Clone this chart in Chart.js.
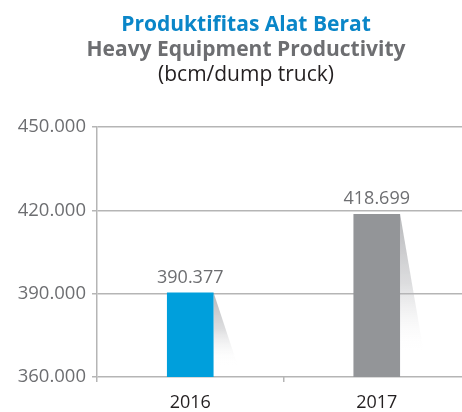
<!DOCTYPE html>
<html>
<head>
<meta charset="utf-8">
<script src="https://cdn.jsdelivr.net/npm/chart.js@4.4.1/dist/chart.umd.min.js"></script>
<style>
  html, body { margin: 0; padding: 0; background: #fff; overflow: hidden; }
</style>
</head>
<body>
<canvas id="barCanvas" width="470" height="412"></canvas>
<script>
const years = ['2016', '2017'];
const productivity = [390377, 418699];
const barColors = ['#009fdc', '#939598'];
const titleLines = ['Produktifitas Alat Berat', 'Heavy Equipment Productivity', '(bcm/dump truck)'];

const FONT = "'Open Sans', sans-serif";

// 450000 -> "450.000"
function fmt(v) {
    return String(Math.round(v)).replace(/\B(?=(\d{3})+(?!\d))/g, '.');
}

// three-line heading above the plot
const headingPlugin = {
    id: 'heading',
    afterDraw(chart) {
        const ctx = chart.ctx;
        ctx.save();
        ctx.textAlign = 'center';
        ctx.textBaseline = 'middle';
        ctx.font = 'bold 21px ' + FONT;
        ctx.fillStyle = '#0a86c8';
        ctx.fillText(titleLines[0], 246, 25);
        ctx.fillStyle = '#6d6e71';
        ctx.fillText(titleLines[1], 246, 50);
        ctx.font = '21px ' + FONT;
        ctx.fillStyle = '#231f20';
        ctx.fillText(titleLines[2], 246, 75);
        ctx.restore();
    }
};

// faded slanted shadow on the right side of each bar, plus value labels
const barShadowPlugin = {
    id: 'barShadow',
    beforeDatasetsDraw(chart) {
        const ctx = chart.ctx;
        const meta = chart.getDatasetMeta(0);
        const base = chart.chartArea.bottom;
        ctx.save();
        meta.data.forEach(bar => {
            const p = bar.getProps(['x', 'y', 'width'], true);
            const right = p.x + p.width / 2;
            const top = p.y;
            const bottom = top + (base - top) * 0.86;
            const g = ctx.createLinearGradient(0, top, 0, bottom);
            g.addColorStop(0, 'rgba(150,151,155,0.7)');
            g.addColorStop(0.5, 'rgba(170,171,175,0.4)');
            g.addColorStop(1, 'rgba(255,255,255,0)');
            ctx.fillStyle = g;
            ctx.beginPath();
            ctx.moveTo(right, top);
            ctx.lineTo(right + 24, bottom);
            ctx.lineTo(right, bottom);
            ctx.closePath();
            ctx.fill();
        });
        ctx.restore();
    },
    afterDatasetsDraw(chart) {
        const ctx = chart.ctx;
        const meta = chart.getDatasetMeta(0);
        ctx.save();
        ctx.font = '18px ' + FONT;
        ctx.fillStyle = '#6d6e71';
        ctx.textAlign = 'center';
        ctx.textBaseline = 'alphabetic';
        meta.data.forEach((bar, i) => {
            const p = bar.getProps(['x', 'y'], true);
            ctx.fillText(fmt(productivity[i]), p.x, p.y - 10);
        });
        ctx.restore();
    }
};

const barChart = new Chart(document.getElementById('barCanvas'), {
    type: 'bar',
    data: {
        labels: years,
        datasets: [{
            data: productivity,
            backgroundColor: barColors,
            borderWidth: 0,
            barPercentage: 0.25,
            categoryPercentage: 1
        }]
    },
    options: {
        responsive: false,
        animation: false,
        layout: { padding: { top: 127, left: 0, right: 0, bottom: 0 } },
        plugins: {
            legend: { display: false },
            tooltip: { enabled: false }
        },
        scales: {
            x: {
                afterFit(scale) { scale.height = 35; },
                grid: {
                    offset: true,
                    drawOnChartArea: false,
                    tickLength: 5,
                    color: '#b5b5b5',
                    lineWidth: 1.5
                },
                border: { display: false },
                ticks: {
                    color: '#231f20',
                    padding: 10,
                    font: { family: FONT, size: 18 }
                }
            },
            y: {
                min: 360000,
                max: 450000,
                afterFit(scale) { scale.width = 97; },
                grid: {
                    color: '#b5b5b5',
                    lineWidth: 1.5,
                    tickLength: 5
                },
                border: { color: '#b5b5b5', width: 1.5 },
                ticks: {
                    stepSize: 30000,
                    color: '#6d6e71',
                    padding: 6,
                    font: { family: FONT, size: 18.5 },
                    callback: v => fmt(v)
                }
            }
        }
    },
    plugins: [barShadowPlugin, headingPlugin]
});
</script>
</body>
</html>
